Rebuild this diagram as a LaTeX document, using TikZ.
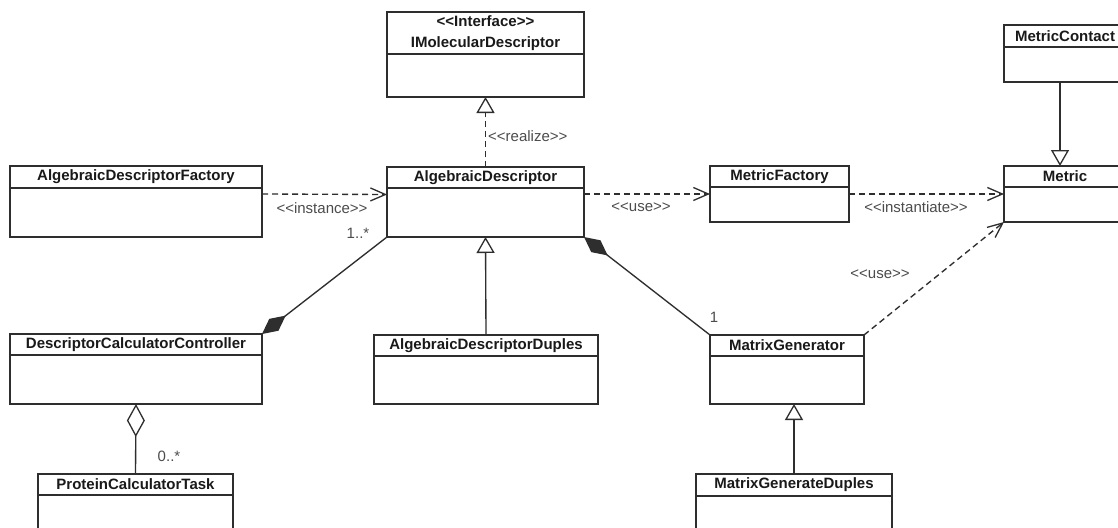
\documentclass[tikz,border=0pt]{standalone}
\usepackage{fontspec}
\setmainfont{Liberation Sans}
\usetikzlibrary{arrows.meta,calc}

% class box: name, x1, y1, x2, y2, y of header rule, title
\newcommand\umlclass[7]{%
  \node[clsbox, minimum width={#4-#2}, minimum height={#5-#3}] (#1) at ({(#2+#4)/2},{(#3+#5)/2}) {};
  \draw[clsline] (#1.west |- 0,#6) -- (#1.east |- 0,#6);
  \node[clstitle] (#1-title) at ({(#2+#4)/2},{(#3+#6)/2}) {#7};
}

\tikzset{
  ink/.style={draw=black!82, line width=1.35pt},
  clsbox/.style={ink, rectangle, inner sep=0pt, outer sep=0pt, fill=white},
  clsline/.style={ink},
  clstitle/.style={inner sep=0pt, font=\fontsize{15}{21}\selectfont\bfseries, text=black!90, align=center},
  lbl/.style={inner sep=0pt, font=\fontsize{15}{18}\selectfont, text=black!70},
  dep/.style={ink, dash pattern=on 6pt off 4pt, -{Straight Barb[length=15pt,width=13pt,line width=1.3pt]}},
  gen/.style={ink, -{Triangle[open,length=16pt,width=18pt,line width=1.3pt]}},
  real/.style={ink, dash pattern=on 6pt off 4pt, -{Triangle[open,length=16pt,width=18pt,line width=1.3pt]}},
  comp/.style={ink, {Diamond[length=30pt,width=15pt]}-},
  aggr/.style={ink, {Diamond[open,length=33pt,width=18pt,line width=1.3pt]}-},
}

\begin{document}
\begin{tikzpicture}[x=1pt,y=-1pt]
  \useasboundingbox (0,0) rectangle (1118,527);
  \fill[white] (0,0) rectangle (1118,527);
  \clip (0,0) rectangle (1118,527);

  % classes
  \umlclass{imd}{387}{12}{584}{97}{54}{<{}<Interface>{}>\\IMolecularDescriptor}
  \umlclass{ad}{387}{167}{584}{237}{188}{AlgebraicDescriptor}
  \umlclass{adf}{10}{166}{262}{237}{188}{AlgebraicDescriptorFactory}
  \umlclass{mf}{710}{166}{849}{222}{187}{MetricFactory}
  \umlclass{met}{1004}{166}{1126}{222}{187}{Metric}
  \umlclass{mc}{1004}{25}{1126}{82}{47}{MetricContact}
  \umlclass{dcc}{10}{334}{262}{404}{355}{DescriptorCalculatorController}
  \umlclass{add}{374}{335}{598}{404}{356}{AlgebraicDescriptorDuples}
  \umlclass{mg}{710}{335}{864}{404}{356}{MatrixGenerator}
  \umlclass{pt}{38}{474}{233}{560}{495}{ProteinCalculatorTask}
  \umlclass{mgd}{696}{474}{892}{560}{496}{MatrixGenerateDuples}

  % realization of the interface
  \draw[real] (ad.north) -- (imd.south);
  \node[lbl, anchor=west] (lrealize) at (488,136) {<{}<realize>{}>};

  % dependencies
  \draw[dep] ([yshift=7.5pt]adf.east) -- ([yshift=7.5pt]ad.west);
  \node[lbl] (linstance) at (322,208) {<{}<instance>{}>};
  \draw[dep] (mf.west -| ad.east) -- (mf.west);
  \node[lbl] (luse1) at (641,207) {<{}<use>{}>};
  \draw[dep] (mf.east) -- (met.west);
  \node[lbl] (linst) at (916,207) {<{}<instantiate>{}>};
  \draw[dep] (mg.north east) -- (met.south west);
  \node[lbl] (luse2) at (880,274) {<{}<use>{}>};

  % generalizations
  \draw[gen] ([xshift=-5pt]mc.south) -- ([xshift=-5pt]met.north);
  \draw[gen] (add.north) -- (ad.south);
  \draw[gen] (mgd.north) -- (mgd.north |- mg.south);

  % compositions and aggregation
  \draw[comp] (dcc.north east) -- (ad.south west);
  \node[lbl] (m1) at (358,233) {1..*};
  \draw[comp] (ad.south east) -- (mg.north west);
  \node[lbl] (m2) at (714,317) {1};
  \draw[aggr] (dcc.south) -- (pt.north);
  \node[lbl] (m3) at (169,456) {0..*};
\end{tikzpicture}
\end{document}
